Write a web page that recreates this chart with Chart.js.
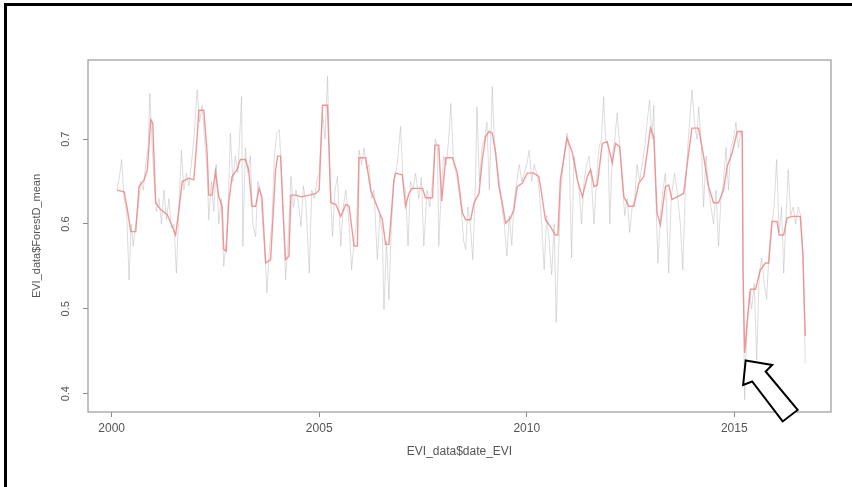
<!DOCTYPE html>
<html>
<head>
<meta charset="utf-8">
<script src="https://cdn.jsdelivr.net/npm/chart.js@4.4.1/dist/chart.umd.min.js"></script>
<style>
  html, body { margin: 0; padding: 0; background: #ffffff; }
  #wrap { width: 852px; height: 487px; position: relative; }
</style>
</head>
<body>
<div id="wrap"><canvas id="c" width="852" height="487"></canvas></div>
<script>
// ---------- data ----------
const xTickValues = [2000, 2005, 2010, 2015];
const yTickValues = [0.4, 0.5, 0.6, 0.7];
const xTitle = 'EVI_data$date_EVI';
const yTitle = 'EVI_data$ForestD_mean';

// smoothed series (red)
const redYears = [
  2000.13, 2000.30, 2000.38, 2000.46, 2000.58, 2000.66, 2000.78, 2000.86, 2000.94, 2000.99,
  2001.06, 2001.18, 2001.34, 2001.46, 2001.54, 2001.62, 2001.70, 2001.86, 2001.98,
  2002.06, 2002.10, 2002.22, 2002.30, 2002.34, 2002.42, 2002.50, 2002.58, 2002.66, 2002.70, 2002.76, 2002.82, 2002.90,
  2003.02, 2003.10, 2003.22, 2003.30, 2003.38, 2003.47, 2003.55, 2003.62, 2003.71, 2003.83, 2003.95,
  2004.00, 2004.07, 2004.12, 2004.19, 2004.27, 2004.32, 2004.44, 2004.56, 2004.76, 2004.92,
  2005.00, 2005.08, 2005.20, 2005.28, 2005.40, 2005.52, 2005.64, 2005.72, 2005.84, 2005.92, 2005.96,
  2006.12, 2006.24, 2006.36, 2006.52, 2006.60, 2006.68, 2006.80, 2006.84,
  2007.00, 2007.08, 2007.16, 2007.24, 2007.49, 2007.56, 2007.73, 2007.79, 2007.88, 2007.95,
  2008.05, 2008.21, 2008.33, 2008.45, 2008.53, 2008.65, 2008.73, 2008.85, 2008.93,
  2009.01, 2009.09, 2009.17, 2009.25, 2009.33, 2009.41, 2009.49, 2009.61, 2009.69, 2009.77, 2009.89,
  2010.01, 2010.17, 2010.29, 2010.37, 2010.45, 2010.57, 2010.69, 2010.75, 2010.81, 2010.97,
  2011.10, 2011.22, 2011.34, 2011.46, 2011.54, 2011.62, 2011.70, 2011.82, 2011.94,
  2012.06, 2012.14, 2012.24, 2012.34, 2012.46, 2012.58, 2012.70, 2012.82, 2012.90, 2012.98,
  2013.06, 2013.14, 2013.22, 2013.34, 2013.42, 2013.50, 2013.62, 2013.78, 2013.90, 2013.98,
  2014.14, 2014.26, 2014.38, 2014.50, 2014.62, 2014.74, 2014.83, 2014.95,
  2015.07, 2015.19, 2015.21, 2015.25, 2015.31, 2015.39, 2015.51, 2015.63, 2015.75, 2015.83, 2015.91,
  2016.03, 2016.08, 2016.19, 2016.27, 2016.39, 2016.59, 2016.65, 2016.71
];
const redValues = [
  0.640, 0.638, 0.617, 0.591, 0.591, 0.644, 0.652, 0.664, 0.723, 0.719,
  0.625, 0.617, 0.611, 0.597, 0.587, 0.617, 0.650, 0.654, 0.652,
  0.703, 0.734, 0.734, 0.684, 0.634, 0.634, 0.662, 0.632, 0.621, 0.570, 0.568, 0.625, 0.656,
  0.664, 0.676, 0.676, 0.664, 0.621, 0.621, 0.642, 0.632, 0.554, 0.558, 0.664,
  0.680, 0.680, 0.625, 0.558, 0.562, 0.634, 0.634, 0.632, 0.634, 0.636,
  0.640, 0.740, 0.740, 0.625, 0.623, 0.609, 0.623, 0.621, 0.574, 0.574, 0.678,
  0.678, 0.640, 0.625, 0.605, 0.576, 0.576, 0.652, 0.660,
  0.658, 0.621, 0.636, 0.642, 0.642, 0.631, 0.631, 0.693, 0.693, 0.627,
  0.678, 0.678, 0.660, 0.613, 0.605, 0.605, 0.625, 0.636, 0.676,
  0.703, 0.709, 0.707, 0.684, 0.644, 0.625, 0.601, 0.607, 0.617, 0.644, 0.648,
  0.660, 0.660, 0.656, 0.632, 0.605, 0.597, 0.587, 0.587, 0.652, 0.701,
  0.684, 0.652, 0.632, 0.656, 0.664, 0.644, 0.646, 0.695, 0.697,
  0.672, 0.695, 0.691, 0.632, 0.621, 0.621, 0.648, 0.656, 0.684, 0.713,
  0.703, 0.613, 0.599, 0.644, 0.646, 0.629, 0.632, 0.636, 0.684, 0.713,
  0.713, 0.680, 0.644, 0.625, 0.625, 0.640, 0.668, 0.684,
  0.709, 0.709, 0.546, 0.448, 0.484, 0.523, 0.523, 0.546, 0.554, 0.554, 0.603,
  0.603, 0.587, 0.587, 0.607, 0.609, 0.609, 0.566, 0.468
];

// raw series (grey)
const grayYears = [
  2000.13, 2000.20, 2000.24, 2000.30, 2000.36, 2000.42, 2000.47, 2000.52, 2000.58, 2000.64, 2000.70, 2000.76, 2000.82, 2000.88, 2000.92, 2000.97,
  2001.02, 2001.08, 2001.14, 2001.20, 2001.26, 2001.32, 2001.38, 2001.44, 2001.50, 2001.56, 2001.62, 2001.68, 2001.74, 2001.80, 2001.86, 2001.92, 2001.98,
  2002.06, 2002.12, 2002.18, 2002.24, 2002.30, 2002.34, 2002.40, 2002.46, 2002.52, 2002.58, 2002.64, 2002.70, 2002.76, 2002.82, 2002.86, 2002.92, 2002.98,
  2003.04, 2003.13, 2003.16, 2003.22, 2003.28, 2003.34, 2003.40, 2003.47, 2003.52, 2003.58, 2003.64, 2003.70, 2003.74, 2003.80, 2003.86, 2003.92, 2003.98,
  2004.04, 2004.10, 2004.19, 2004.25, 2004.32, 2004.38, 2004.44, 2004.50, 2004.56, 2004.62, 2004.68, 2004.76, 2004.82, 2004.88, 2004.94,
  2005.00, 2005.08, 2005.14, 2005.20, 2005.26, 2005.32, 2005.38, 2005.44, 2005.52, 2005.58, 2005.64, 2005.72, 2005.78, 2005.84, 2005.90, 2005.96,
  2006.02, 2006.08, 2006.14, 2006.20, 2006.26, 2006.32, 2006.40, 2006.46, 2006.52, 2006.56, 2006.62, 2006.68, 2006.74, 2006.80, 2006.88, 2006.96,
  2007.02, 2007.08, 2007.14, 2007.20, 2007.26, 2007.32, 2007.40, 2007.46, 2007.52, 2007.60, 2007.66, 2007.73, 2007.80, 2007.85, 2007.88, 2007.94,
  2008.00, 2008.06, 2008.12, 2008.17, 2008.24, 2008.30, 2008.36, 2008.42, 2008.48, 2008.53, 2008.58, 2008.64, 2008.70, 2008.76, 2008.80, 2008.86, 2008.92, 2008.98,
  2009.04, 2009.10, 2009.17, 2009.22, 2009.28, 2009.34, 2009.40, 2009.46, 2009.52, 2009.58, 2009.64, 2009.70, 2009.76, 2009.82, 2009.88, 2009.94,
  2010.00, 2010.06, 2010.12, 2010.18, 2010.24, 2010.30, 2010.36, 2010.42, 2010.48, 2010.54, 2010.60, 2010.66, 2010.71, 2010.76, 2010.82, 2010.90, 2010.97,
  2011.02, 2011.08, 2011.14, 2011.20, 2011.26, 2011.32, 2011.38, 2011.44, 2011.50, 2011.56, 2011.62, 2011.68, 2011.74, 2011.80, 2011.85, 2011.90, 2011.96,
  2012.00, 2012.06, 2012.12, 2012.18, 2012.24, 2012.30, 2012.36, 2012.42, 2012.48, 2012.54, 2012.60, 2012.66, 2012.72, 2012.78, 2012.84, 2012.90, 2012.96,
  2013.02, 2013.06, 2013.10, 2013.16, 2013.22, 2013.28, 2013.34, 2013.42, 2013.48, 2013.56, 2013.62, 2013.70, 2013.76, 2013.82, 2013.88, 2013.98,
  2014.04, 2014.10, 2014.14, 2014.20, 2014.26, 2014.32, 2014.38, 2014.44, 2014.50, 2014.56, 2014.62, 2014.68, 2014.74, 2014.80, 2014.86, 2014.92, 2014.98,
  2015.04, 2015.10, 2015.16, 2015.20, 2015.22, 2015.25, 2015.30, 2015.36, 2015.42, 2015.48, 2015.54, 2015.60, 2015.66, 2015.72, 2015.78, 2015.84, 2015.90, 2015.96,
  2016.02, 2016.08, 2016.14, 2016.19, 2016.24, 2016.30, 2016.36, 2016.42, 2016.48, 2016.54, 2016.60, 2016.66, 2016.71
];
const grayValues = [
  0.640, 0.660, 0.676, 0.630, 0.615, 0.534, 0.600, 0.574, 0.600, 0.620, 0.650, 0.640, 0.670, 0.690, 0.754, 0.700,
  0.650, 0.615, 0.630, 0.600, 0.640, 0.605, 0.630, 0.595, 0.600, 0.542, 0.620, 0.687, 0.640, 0.660, 0.645, 0.670, 0.700,
  0.758, 0.720, 0.740, 0.700, 0.660, 0.605, 0.650, 0.615, 0.670, 0.600, 0.630, 0.550, 0.580, 0.640, 0.707, 0.650, 0.680,
  0.660, 0.750, 0.574, 0.690, 0.660, 0.680, 0.600, 0.585, 0.650, 0.640, 0.600, 0.560, 0.519, 0.570, 0.600, 0.680, 0.707,
  0.711, 0.650, 0.534, 0.580, 0.656, 0.620, 0.640, 0.625, 0.597, 0.645, 0.625, 0.542, 0.640, 0.630, 0.650,
  0.660, 0.730, 0.700, 0.774, 0.650, 0.585, 0.640, 0.656, 0.574, 0.620, 0.640, 0.600, 0.546, 0.580, 0.600, 0.687,
  0.670, 0.690, 0.665, 0.670, 0.630, 0.640, 0.558, 0.610, 0.590, 0.499, 0.580, 0.511, 0.600, 0.650, 0.670, 0.715,
  0.650, 0.640, 0.574, 0.650, 0.640, 0.660, 0.630, 0.655, 0.574, 0.640, 0.620, 0.650, 0.700, 0.690, 0.574, 0.640,
  0.680, 0.670, 0.700, 0.742, 0.670, 0.660, 0.640, 0.620, 0.580, 0.570, 0.620, 0.600, 0.558, 0.640, 0.738, 0.650, 0.690, 0.700,
  0.720, 0.640, 0.762, 0.700, 0.670, 0.650, 0.620, 0.600, 0.562, 0.610, 0.575, 0.630, 0.650, 0.670, 0.650, 0.660,
  0.670, 0.687, 0.650, 0.670, 0.660, 0.640, 0.600, 0.546, 0.610, 0.580, 0.540, 0.600, 0.484, 0.560, 0.640, 0.680, 0.707,
  0.690, 0.560, 0.680, 0.660, 0.640, 0.600, 0.650, 0.670, 0.680, 0.650, 0.600, 0.650, 0.690, 0.700, 0.750, 0.700, 0.690,
  0.600, 0.680, 0.700, 0.731, 0.690, 0.650, 0.610, 0.630, 0.590, 0.620, 0.630, 0.670, 0.650, 0.670, 0.690, 0.720, 0.746,
  0.700, 0.740, 0.650, 0.554, 0.610, 0.640, 0.660, 0.542, 0.630, 0.660, 0.640, 0.600, 0.546, 0.640, 0.690, 0.758,
  0.720, 0.700, 0.738, 0.700, 0.620, 0.680, 0.640, 0.620, 0.600, 0.640, 0.574, 0.630, 0.650, 0.690, 0.640, 0.690, 0.700,
  0.720, 0.690, 0.710, 0.700, 0.500, 0.393, 0.470, 0.520, 0.500, 0.530, 0.440, 0.540, 0.560, 0.530, 0.511, 0.570, 0.600, 0.620,
  0.676, 0.590, 0.620, 0.542, 0.600, 0.664, 0.610, 0.620, 0.600, 0.620, 0.610, 0.560, 0.436
];

// annotation arrow: anchored just below the smoothed-series minimum
const arrowTarget = { year: 2015.25, value: 0.448 };

// ---------- chart ----------
const toPoints = (xs, ys) => xs.map((x, i) => ({ x: x, y: ys[i] }));
const FONT = "'Liberation Sans', Arial, Helvetica, sans-serif";

const framePlugin = {
  id: 'frame',
  beforeDraw(chart) {
    const ctx = chart.ctx;
    ctx.save();
    ctx.fillStyle = '#ffffff';
    ctx.fillRect(0, 0, chart.width, chart.height);
    ctx.restore();
  },
  afterDraw(chart) {
    const ctx = chart.ctx;
    const a = chart.chartArea;
    ctx.save();
    // plot box (R style)
    ctx.strokeStyle = '#a0a0a0';
    ctx.lineWidth = 1.3;
    ctx.strokeRect(a.left, a.top, a.right - a.left, a.bottom - a.top);
    // outer black frame of the picture
    ctx.strokeStyle = '#000000';
    ctx.lineWidth = 3;
    ctx.beginPath();
    ctx.moveTo(5.5, chart.height);
    ctx.lineTo(5.5, 4.5);
    ctx.lineTo(chart.width, 4.5);
    ctx.stroke();
    // arrow pointing at the drop
    const xs = chart.scales.x, ys = chart.scales.y;
    const tx = xs.getPixelForValue(arrowTarget.year) + 1;
    const ty = ys.getPixelForValue(arrowTarget.value) + 7.5;
    const shape = [[0, 0], [26.5, 4.5], [20, 11], [52, 49.5], [37, 61], [6.5, 21], [-2.5, 24.5]];
    ctx.beginPath();
    shape.forEach((p, i) => { if (i === 0) ctx.moveTo(tx + p[0], ty + p[1]); else ctx.lineTo(tx + p[0], ty + p[1]); });
    ctx.closePath();
    ctx.fillStyle = '#ffffff';
    ctx.fill();
    ctx.strokeStyle = '#000000';
    ctx.lineWidth = 2;
    ctx.lineJoin = 'miter';
    ctx.stroke();
    ctx.restore();
  }
};

new Chart(document.getElementById('c'), {
  type: 'scatter',
  data: {
    datasets: [
      {
        label: 'smoothed',
        data: toPoints(redYears, redValues),
        showLine: true,
        borderColor: 'rgba(236,128,128,0.8)',
        borderWidth: 1.4,
        pointRadius: 0,
        tension: 0,
        order: 1
      },
      {
        label: 'raw',
        data: toPoints(grayYears, grayValues),
        showLine: true,
        borderColor: 'rgba(185,185,185,0.5)',
        borderWidth: 1,
        pointRadius: 0,
        tension: 0,
        order: 2
      }
    ]
  },
  options: {
    responsive: false,
    animation: false,
    events: [],
    layout: { padding: { left: 0, top: 60, right: 21, bottom: 0 } },
    plugins: { legend: { display: false }, tooltip: { enabled: false } },
    scales: {
      x: {
        type: 'linear',
        min: 1999.43,
        max: 2017.33,
        afterBuildTicks: (s) => { s.ticks = xTickValues.map(v => ({ value: v })); },
        afterFit: (s) => { s.height = 75; },
        border: { display: false },
        grid: { drawOnChartArea: false, drawTicks: true, tickLength: 5, color: '#8a8a8a', lineWidth: 1 },
        ticks: {
          color: '#555', padding: 4, maxRotation: 0, minRotation: 0,
          font: { family: FONT, size: 12 },
          callback: (v) => String(v)
        },
        title: {
          display: true, text: xTitle, color: '#555',
          font: { family: FONT, size: 12 },
          padding: { top: 0, bottom: 28 }
        }
      },
      y: {
        type: 'linear',
        min: 0.3784,
        max: 0.7933,
        afterBuildTicks: (s) => { s.ticks = yTickValues.map(v => ({ value: v })); },
        afterFit: (s) => { s.width = 88; },
        border: { display: false },
        grid: { drawOnChartArea: false, drawTicks: true, tickLength: 5, color: '#8a8a8a', lineWidth: 1 },
        ticks: {
          color: '#555', padding: 9, minRotation: 90, maxRotation: 90, crossAlign: 'center',
          font: { family: FONT, size: 11 },
          callback: (v) => String(v)
        },
        title: {
          display: true, text: yTitle, color: '#555',
          font: { family: FONT, size: 11 },
          padding: { top: 30, bottom: 0 }
        }
      }
    }
  },
  plugins: [framePlugin]
});
</script>
</body>
</html>
